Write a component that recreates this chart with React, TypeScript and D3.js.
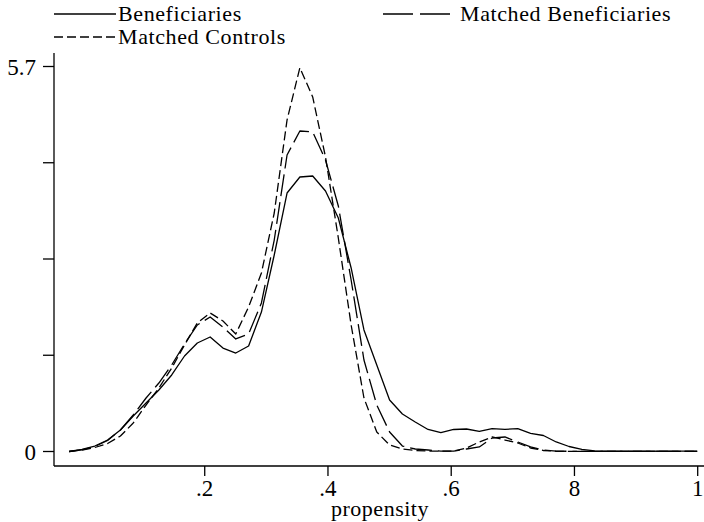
import React from 'react';
import * as d3 from 'd3';

const propensity = [
  -0.02, 0.0008, 0.0216, 0.0424, 0.0632, 0.084, 0.1048, 0.1256, 0.1464, 0.1672,
  0.188, 0.2088, 0.2296, 0.2504, 0.2712, 0.292, 0.3128, 0.3336, 0.3544, 0.3752,
  0.396, 0.4168, 0.4376, 0.4584, 0.4792, 0.5, 0.5208, 0.5416, 0.5624, 0.5832,
  0.604, 0.6248, 0.6456, 0.6664, 0.6872, 0.708, 0.7288, 0.7496, 0.7704, 0.7912,
  0.812, 0.8328, 0.8536, 0.8744, 0.8952, 0.916, 0.9368, 0.9576, 0.9784, 0.9992,
];

const beneficiaries = [
  0.0, 0.03, 0.081, 0.17, 0.318, 0.526, 0.718, 0.911, 1.133, 1.414,
  1.606, 1.695, 1.532, 1.458, 1.562, 2.065, 2.909, 3.827, 4.064, 4.079,
  3.857, 3.457, 2.717, 1.799, 1.281, 0.762, 0.555, 0.437, 0.326, 0.278,
  0.326, 0.333, 0.299, 0.338, 0.329, 0.338, 0.269, 0.237, 0.141, 0.074,
  0.033, 0.01, 0.006, 0.005, 0.005, 0.005, 0.004, 0.005, 0.005, 0.004,
];

const matchedBeneficiaries = [
  0.0, 0.025, 0.074, 0.163, 0.318, 0.54, 0.792, 1.014, 1.281, 1.592,
  1.873, 1.991, 1.843, 1.666, 1.74, 2.199, 3.131, 4.39, 4.745, 4.73,
  4.316, 3.635, 2.539, 1.355, 0.688, 0.289, 0.081, 0.037, 0.022, 0.007,
  0.007, 0.037, 0.067, 0.2, 0.215, 0.141, 0.067, 0.022, 0.007, 0.003,
  0.003, 0.003, 0.003, 0.003, 0.003, 0.003, 0.003, 0.003, 0.003, 0.003,
];

const matchedControls = [
  0.0, 0.022, 0.059, 0.118, 0.229, 0.422, 0.688, 0.94, 1.236, 1.577,
  1.903, 2.051, 1.932, 1.74, 2.139, 2.643, 3.531, 4.908, 5.683, 5.249,
  4.36, 3.161, 1.873, 0.792, 0.289, 0.096, 0.037, 0.015, 0.007, 0.007,
  0.007, 0.052, 0.141, 0.215, 0.17, 0.126, 0.052, 0.015, 0.003, 0.003,
  0.003, 0.003, 0.003, 0.003, 0.003, 0.003, 0.003, 0.003, 0.003, 0.003,
];

const xTicks = [0.2, 0.4, 0.6, 0.8, 1.0];
const xTickLabels = ['.2', '.4', '.6', '8', '1'];
const yTicks = [0, 1.425, 2.85, 4.275, 5.7];
const yTickLabels = ['0', '', '', '', '5.7'];

const seriesNames = ['Beneficiaries', 'Matched Beneficiaries', 'Matched Controls'];

const FONT = '"Liberation Serif", "DejaVu Serif", serif';

export default function App() {
  const W = 704;
  const H = 522;
  const axisLeft = 54;
  const axisBottom = 466;
  const x = d3.scaleLinear().domain([-0.0446, 1]).range([54, 697.7]);
  const y = d3.scaleLinear().domain([0, 5.7]).range([451.5, 66.5]);

  const mk = (vals: number[]) =>
    d3
      .line<number>()
      .x((_, i) => x(propensity[i]))
      .y((d) => y(d))(vals) as string;

  const series = [
    { name: seriesNames[0], vals: beneficiaries, dash: undefined as string | undefined },
    { name: seriesNames[1], vals: matchedBeneficiaries, dash: '22,6' },
    { name: seriesNames[2], vals: matchedControls, dash: '9,4' },
  ];

  return (
    <svg
      width={W}
      height={H}
      style={{ position: 'absolute', left: 0, top: 0, background: '#fff', fontFamily: FONT }}
    >
      <rect width={W} height={H} fill="#fff" />
      {/* legend */}
      <g fontSize={22} fill="#000" letterSpacing={0.6}>
        <line x1={54} x2={116} y1={14} y2={14} stroke="#000" strokeWidth={1.3} />
        <text x={118} y={21}>{seriesNames[0]}</text>
        <line x1={383} x2={450} y1={14} y2={14} stroke="#000" strokeWidth={1.3} strokeDasharray="30,7" />
        <text x={460} y={21}>{seriesNames[1]}</text>
        <line x1={54} x2={116} y1={37} y2={37} stroke="#000" strokeWidth={1.3} strokeDasharray="9,4" />
        <text x={118} y={44}>{seriesNames[2]}</text>
      </g>
      {/* axes */}
      <line x1={axisLeft} x2={axisLeft} y1={53} y2={axisBottom} stroke="#000" strokeWidth={1.3} />
      <line x1={axisLeft} x2={W} y1={axisBottom} y2={axisBottom} stroke="#000" strokeWidth={1.3} />
      {yTicks.map((t, i) => (
        <g key={'y' + i}>
          <line x1={axisLeft - 11} x2={axisLeft} y1={y(t)} y2={y(t)} stroke="#000" strokeWidth={1.3} />
          {yTickLabels[i] && (
            <text x={36} y={y(t) + 8} textAnchor="end" fontSize={23}>
              {yTickLabels[i]}
            </text>
          )}
        </g>
      ))}
      {xTicks.map((t, i) => (
        <g key={'x' + i}>
          <line x1={x(t)} x2={x(t)} y1={axisBottom} y2={axisBottom + 10} stroke="#000" strokeWidth={1.3} />
          <text x={x(t)} y={496} textAnchor="middle" fontSize={23}>
            {xTickLabels[i]}
          </text>
        </g>
      ))}
      <text x={380} y={516} textAnchor="middle" fontSize={22} letterSpacing={0.5}>
        propensity
      </text>
      {/* series */}
      {series.map((s) => (
        <path
          key={s.name}
          d={mk(s.vals)}
          fill="none"
          stroke="#000"
          strokeWidth={1.3}
          strokeDasharray={s.dash}
          strokeLinejoin="round"
        />
      ))}
    </svg>
  );
}
